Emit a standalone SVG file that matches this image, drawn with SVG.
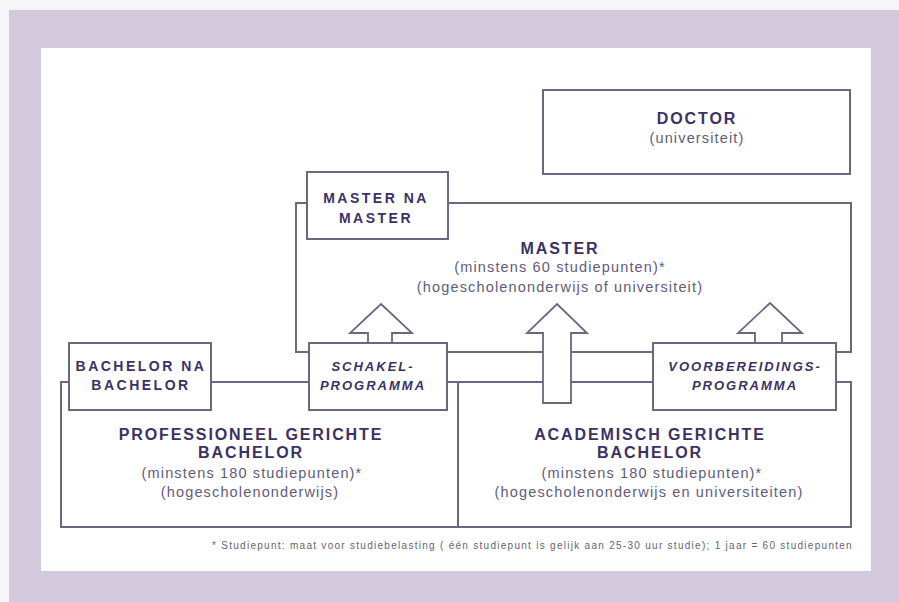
<svg xmlns="http://www.w3.org/2000/svg" width="899" height="602" viewBox="0 0 899 602">
<defs>
<style>
.ln{fill:none;stroke:#6c6680;stroke-width:2}
.bx{fill:#fff;stroke:#6c6680;stroke-width:2}
.ar{fill:#fff;stroke:#6c6680;stroke-width:1.8;stroke-linejoin:miter}
.t{font-family:"Liberation Sans",Arial,sans-serif;font-weight:bold;fill:#3b3165;text-anchor:middle}
.big{font-size:16px;letter-spacing:1.9px}
.sm{font-size:14px;letter-spacing:2.5px}
.it{font-size:13px;letter-spacing:2px;font-style:italic}
.p{font-family:"Liberation Sans",Arial,sans-serif;font-size:14.5px;letter-spacing:1.15px;fill:#625b7c;text-anchor:middle}
.fn{font-family:"Liberation Sans",Arial,sans-serif;font-size:10px;letter-spacing:1.28px;fill:#66636f}
</style>
</defs>
<rect x="0" y="0" width="899" height="602" fill="#f6f5f7"/>
<rect x="9" y="10" width="890" height="592" fill="#d2c9dd"/>
<rect x="41" y="48" width="830" height="523" fill="#fff"/>

<g id="master">
<rect class="ln" x="296" y="203" width="555" height="149"/>
<text class="t big" x="560" y="254">MASTER</text>
<text class="p" x="560" y="272">(minstens 60 studiepunten)*</text>
<text class="p" x="560" y="292">(hogescholenonderwijs of universiteit)</text>
</g>
<g id="prof-bachelor">
<rect class="ln" x="61" y="382" width="397" height="145"/>
<text class="t big" x="251" y="440">PROFESSIONEEL GERICHTE</text>
<text class="t big" x="251" y="458">BACHELOR</text>
<text class="p" x="252" y="478">(minstens 180 studiepunten)*</text>
<text class="p" x="250" y="497">(hogescholenonderwijs)</text>
</g>
<g id="acad-bachelor">
<rect class="ln" x="458" y="382" width="393" height="145"/>
<text class="t big" x="650" y="440">ACADEMISCH GERICHTE</text>
<text class="t big" x="650" y="458">BACHELOR</text>
<text class="p" x="652" y="478">(minstens 180 studiepunten)*</text>
<text class="p" x="649" y="497">(hogescholenonderwijs en universiteiten)</text>
</g>

<g id="connectors">
<polygon class="ar" points="381,304 412,333 392,333 392,346 368,346 368,333 350,333"/>
<polygon class="ar" points="557,304 587,333 571,333 571,403 543,403 543,333 527,333"/>
<polygon class="ar" points="770,303 802,333 782,333 782,346 755,346 755,333 738,333"/>
</g>

<g id="doctor">
<rect class="bx" x="543" y="90" width="307" height="84"/>
<text class="t big" x="697" y="124">DOCTOR</text>
<text class="p" x="697" y="143">(universiteit)</text>
</g>
<g id="master-na-master">
<rect class="bx" x="307" y="172" width="141" height="67"/>
<text class="t sm" x="376" y="203">MASTER NA</text>
<text class="t sm" x="376" y="223">MASTER</text>
</g>
<g id="bachelor-na-bachelor">
<rect class="bx" x="69" y="343" width="142" height="67"/>
<text class="t sm" x="141" y="371">BACHELOR NA</text>
<text class="t sm" x="141" y="390">BACHELOR</text>
</g>
<g id="schakelprogramma">
<rect class="bx" x="309" y="343" width="138" height="67"/>
<text class="t it" x="373" y="371">SCHAKEL-</text>
<text class="t it" x="373" y="390">PROGRAMMA</text>
</g>
<g id="voorbereidingsprogramma">
<rect class="bx" x="653" y="343" width="183" height="67"/>
<text class="t it" x="745" y="371">VOORBEREIDINGS-</text>
<text class="t it" x="745" y="390">PROGRAMMA</text>
</g>

<text class="fn" x="212" y="549">* Studiepunt: maat voor studiebelasting ( één studiepunt is gelijk aan 25-30 uur studie); 1 jaar = 60 studiepunten</text>
</svg>
